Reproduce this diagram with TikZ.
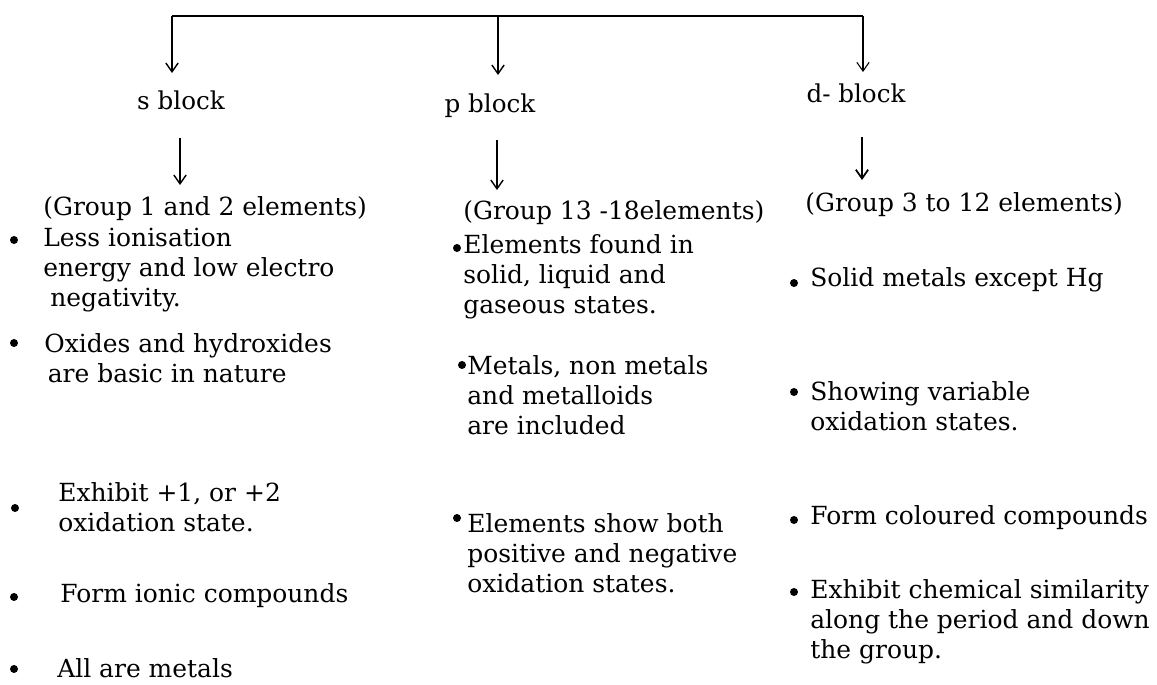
\documentclass[tikz,border=0pt]{standalone}
\usepackage{fontspec}
\setmainfont{DejaVu Serif}
\usetikzlibrary{arrows.meta}

\tikzset{
	arr/.style={line width=0.8pt, -{Straight Barb[length=5pt,width=7pt]}},
	ttl/.style={inner sep=0pt, font=\fontsize{14}{17}\selectfont},
	txt/.style={anchor=west, inner sep=0pt, align=left, font=\fontsize{14.2}{17.07}\selectfont},
	bul/.style={circle, fill=black, inner sep=0pt, minimum size=0.16cm}
}

\begin{document}
\begin{tikzpicture}[x=0.02cm, y=-0.02cm]
		%%%%% START %%%%%
		\useasboundingbox (0,0) rectangle (1157,684);
		
		% top bar
		\coordinate (ts) at (172,16);
		\coordinate (tp) at (498,16);
		\coordinate (td) at (863,16);
		\draw[line width=1.1pt] (ts) -- (td);
		
		\coordinate (sa) at (172,73);
		\coordinate (pa) at (498,75);
		\coordinate (da) at (863,72);
		\draw[arr] (ts) -- (sa);
		\draw[arr] (tp) -- (pa);
		\draw[arr, line width=0.6pt] (td) -- (da);
		
		% blocks
		\node[ttl] (sblk) at (181,100) {s block};
		\node[ttl] (pblk) at (490,106) {p block};
		\node[ttl] (dblk) at (856,93) {d- block};
		
		\coordinate (s1) at (180,138);
		\coordinate (s2) at (180,185);
		\coordinate (p1) at (497,140);
		\coordinate (p2) at (497,190);
		\coordinate (d1) at (862,137);
		\coordinate (d2) at (862,180);
		\draw[arr] (s1) -- (s2);
		\draw[arr] (p1) -- (p2);
		\draw[arr, line width=1pt] (d1) -- (d2);
		
		% s block column
		\node[txt] (sgrp) at (43,209) {(Group 1 and 2 elements)};
		\node[bul] (sb1) at (14,240) {};
		\node[txt] (st1) at (43,270) {Less ionisation\\energy and low electro\\\hspace*{4pt}negativity.};
		\node[bul] (sb2) at (14,343) {};
		\node[txt] (st2) at (44,358) {Oxides and hydroxides\\\hspace*{2pt}are basic in nature};
		\node[bul] (sb3) at (15,508) {};
		\node[txt] (st3) at (58,507) {Exhibit +1, or +2\\oxidation state.};
		\node[bul] (sb4) at (14,597) {};
		\node[txt] (st4) at (60,596) {Form ionic compounds};
		\node[bul] (sb5) at (14,669) {};
		\node[txt] (st5) at (57,668) {All are metals};
		
		% p block column
		\node[txt] (pgrp) at (463,213) {(Group 13 -18elements)};
		\node[bul] (pb1) at (457,248) {};
		\node[txt] (pt1) at (463,277) {Elements found in\\solid, liquid and\\gaseous states.};
		\node[bul] (pb2) at (462,365) {};
		\node[txt] (pt2) at (467,395) {Metals, non metals\\and metalloids\\are included};
		\node[bul] (pb3) at (457,518) {};
		\node[txt] (pt3) at (467,553) {Elements show both\\positive and negative\\oxidation states.};
		
		% d block column
		\node[txt] (dgrp) at (805,205) {(Group 3 to 12 elements)};
		\node[bul] (db1) at (794,283) {};
		\node[txt] (dt1) at (810,280) {Solid metals except Hg};
		\node[bul] (db2) at (794,392) {};
		\node[txt] (dt2) at (810,406) {Showing variable\\oxidation states.};
		\node[bul] (db3) at (794,520) {};
		\node[txt] (dt3) at (810,518) {Form coloured compounds};
		\node[bul] (db4) at (794,592) {};
		\node[txt] (dt4) at (810,622) {Exhibit chemical similarity\\along the period and down\\the group.};
		
		%%%%% END %%%%%
\end{tikzpicture}
\end{document}
